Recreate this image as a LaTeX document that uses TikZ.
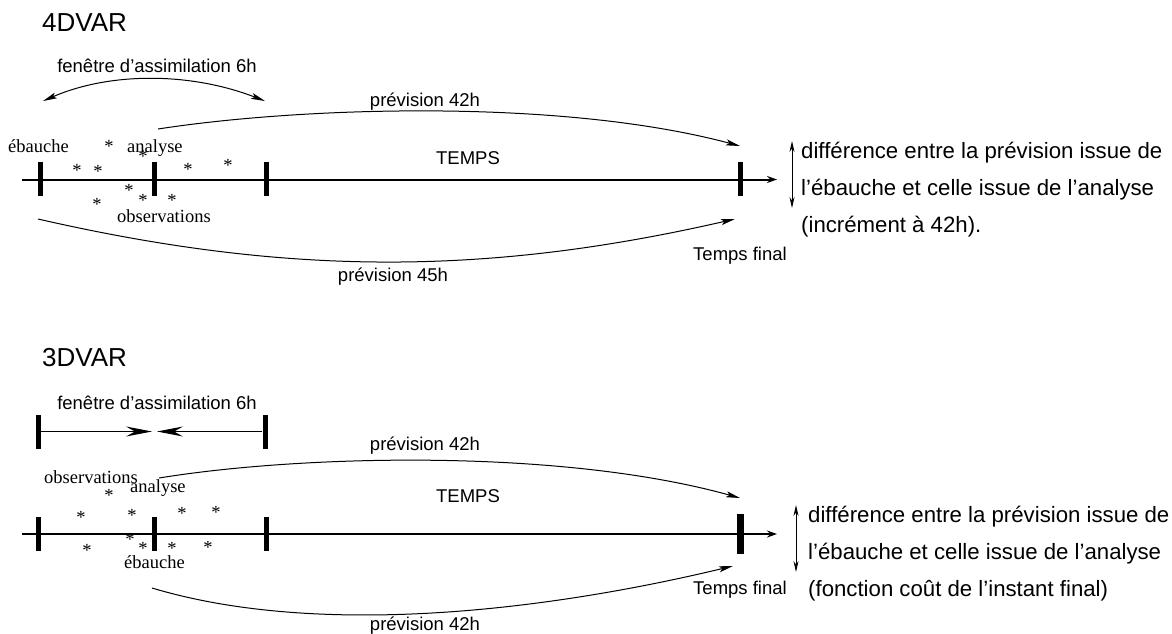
\documentclass[tikz,border=0pt]{standalone}
\usepackage{fontspec}
\setmainfont{Liberation Serif}
\setsansfont{Liberation Sans}
\usetikzlibrary{arrows.meta}
\tikzset{
  lbl/.style={font=\sffamily\fontsize{18.5}{20}\selectfont, inner sep=0pt, anchor=base},
  serif/.style={font=\rmfamily\fontsize{18.5}{20}\selectfont, inner sep=0pt, anchor=base west},
  big/.style={font=\sffamily\fontsize{22.2}{26}\selectfont, inner sep=0pt, anchor=base west},
  title/.style={font=\sffamily\fontsize{26}{30}\selectfont, inner sep=0pt, anchor=base west},
  obs/.style={font=\rmfamily\fontsize{18.5}{20}\selectfont, inner sep=0pt, yshift=-3pt},
  tickbar/.style={fill=black, inner sep=0pt, minimum width=5pt, minimum height=34pt},
  axisline/.style={line width=2pt, -{Stealth[length=10pt,width=7pt]}},
  fc/.style={line width=1pt, -{Stealth[length=14pt,width=6pt,inset=3pt]}},
  fcb/.style={line width=1pt, {Stealth[length=14pt,width=6pt,inset=3pt]}-{Stealth[length=14pt,width=6pt,inset=3pt]}},
  dbl/.style={line width=0.9pt, {Stealth[length=11pt,width=5pt]}-{Stealth[length=11pt,width=5pt]}},
  wl/.style={line width=1pt, -{Stealth[length=26pt,width=10pt,inset=9pt]}},
}
\begin{document}
\begin{tikzpicture}[x=1pt,y=-1pt]
\useasboundingbox (0,0) rectangle (1172,633);
% ================= 4DVAR =================
\node[title] (t4) at (42,31) {4DVAR};
\node[lbl] (fen1) at (157,72) {fenêtre d’assimilation 6h};
\coordinate (fa) at (43,101);
\coordinate (fb) at (265,101);
\draw[fcb] (fa) .. controls (110,72) and (190,72) .. (fb);

\coordinate (ax1s) at (22,179.5);
\coordinate (ax1e) at (777,179.5);
\draw[axisline] (ax1s) -- (ax1e);
\node[tickbar] (k11) at (40,179) {};
\node[tickbar] (k12) at (154,179) {};
\node[tickbar] (k13) at (266,179) {};
\node[tickbar] (k14) at (740,179) {};

\node[lbl] (tp1) at (468,164) {TEMPS};
\node[lbl] (tf1) at (740,260) {Temps final};

\node[serif] (eb1) at (8,152) {ébauche};
\node[serif] (an1) at (127,152) {analyse};
\node[serif] (ob1) at (117,222) {observations};

\foreach \p [count=\i] in {(109,143),(143,153),(77,167),(98,168),(188,166),(228,162),(129,187),(97,201),(143,197),(172,197)}
  \node[obs] (sa\i) at \p {*};

\coordinate (p1s) at (158,129);
\coordinate (p1e) at (740,146);
\draw[fc] (p1s) .. controls (300,107) and (560,98) .. (p1e);
\node[lbl] (pl1) at (425,106) {prévision 42h};

\coordinate (p2s) at (38,219);
\coordinate (p2e) at (735,219);
\draw[fc] (p2s) .. controls (287,276) and (486,276) .. (p2e);
\node[lbl] (pl2) at (393,281) {prévision 45h};

\coordinate (d1a) at (792,141);
\coordinate (d1b) at (792,208);
\draw[dbl] (d1a) -- (d1b);
\node[big] (r11) at (801,158) {différence entre la prévision issue de};
\node[big] (r12) at (801,195) {l’ébauche et celle issue de l’analyse};
\node[big] (r13) at (801,232) {(incrément à 42h).};

% ================= 3DVAR =================
\node[title] (t3) at (42,366) {3DVAR};
\node[lbl] (fen2) at (157,409) {fenêtre d’assimilation 6h};
\node[tickbar] (w1) at (38,431.5) {};
\node[tickbar] (w2) at (265,431.5) {};
\coordinate (wm1) at (152,431.5);
\coordinate (wm2) at (157,431.5);
\draw[wl] (w1) -- (wm1);
\draw[wl] (w2) -- (wm2);

\coordinate (ax2s) at (22,534);
\coordinate (ax2e) at (777,534);
\draw[axisline] (ax2s) -- (ax2e);
\node[tickbar] (k21) at (38,533.7) {};
\node[tickbar] (k22) at (154,533.7) {};
\node[tickbar] (k23) at (266,533.7) {};
\node[tickbar, minimum width=7pt, minimum height=40pt] (k24) at (740,534) {};

\node[lbl] (tp2) at (468,502) {TEMPS};
\node[lbl] (tf2) at (740,594) {Temps final};

\node[serif] (ob2) at (44,483) {observations};
\node[serif] (an2) at (130,492) {analyse};
\node[serif] (eb2) at (124,568) {ébauche};

\foreach \p [count=\i] in {(109,492),(81,514),(132,512),(182,510),(216,509),(130,536),(87,547),(143,545),(172,545),(208,544)}
  \node[obs] (sb\i) at \p {*};

\coordinate (q1s) at (159,478);
\coordinate (q1e) at (740,498);
\draw[fc] (q1s) .. controls (300,455) and (560,448) .. (q1e);
\node[lbl] (ql1) at (425,450) {prévision 42h};

\coordinate (q2s) at (152,588);
\coordinate (q2e) at (733,566);
\draw[fc] (q2s) .. controls (312,636) and (533,614) .. (q2e);
\node[lbl] (ql2) at (425,630) {prévision 42h};

\coordinate (d2a) at (796,505);
\coordinate (d2b) at (796,572);
\draw[dbl] (d2a) -- (d2b);
\node[big] (r21) at (808,522) {différence entre la prévision issue de};
\node[big] (r22) at (808,559) {l’ébauche et celle issue de l’analyse};
\node[big] (r23) at (808,596) {(fonction coût de l’instant final)};
\end{tikzpicture}
\end{document}
